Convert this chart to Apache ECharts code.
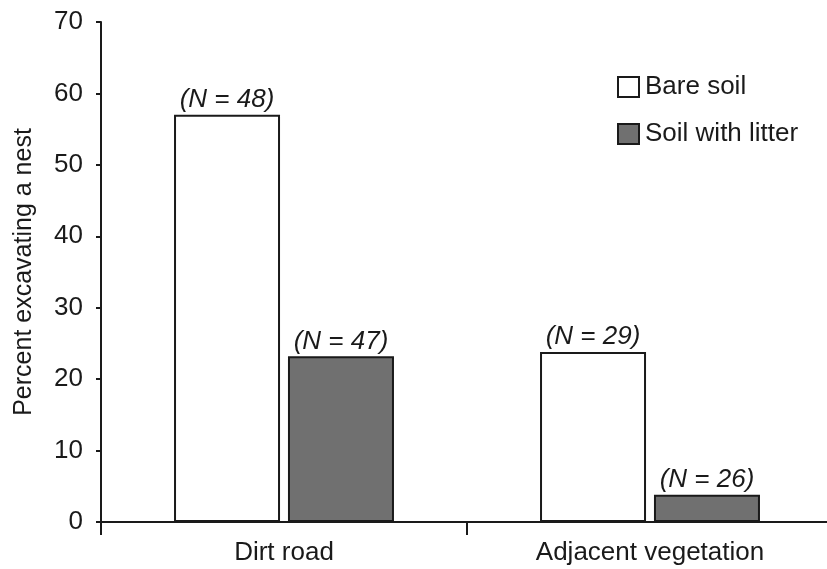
<!DOCTYPE html>
<html>
<head>
<meta charset="utf-8">
<script src="https://cdn.jsdelivr.net/npm/echarts@6/dist/echarts.min.js"></script>
<style>
  html, body { margin: 0; padding: 0; background: #fff; }
  #chart { width: 827px; height: 569px; }
</style>
</head>
<body>
<div id="chart"></div>
<script>
const categories = ['Dirt road', 'Adjacent vegetation']
const bareSoil = [57.0, 23.8]
const soilWithLitter = [23.2, 3.8]
const nBare = [48, 29]
const nLitter = [47, 26]
const yTicks = [0, 10, 20, 30, 40, 50, 60, 70]

const font = 'Liberation Sans, Arial, sans-serif'
const ink = '#1a1a1a'

const chart = echarts.init(document.getElementById('chart'))

const nLabel = (arr) => ({
  show: true,
  position: 'top',
  distance: 2,
  fontFamily: font,
  fontSize: 26,
  fontStyle: 'italic',
  color: ink,
  formatter: p => '(N = ' + arr[p.dataIndex] + ')'
})

const option = {
  animation: false,
  backgroundColor: '#fff',
  grid: {
    left: 101,
    top: 22,
    width: 732,
    height: 500,
    outerBoundsMode: 'none'
  },
  legend: {
    orient: 'vertical',
    left: 612,
    top: 69,
    itemWidth: 21,
    itemHeight: 20,
    itemGap: 21,
    icon: 'rect',
    textStyle: { fontFamily: font, fontSize: 26, lineHeight: 26, color: ink, padding: [0, 0, 0, 1] },
    data: ['Bare soil', 'Soil with litter']
  },
  xAxis: {
    type: 'category',
    data: categories,
    axisLine: { lineStyle: { color: ink, width: 2 } },
    axisTick: { show: true, length: 13, lineStyle: { color: ink, width: 2 } },
    axisLabel: { fontFamily: font, fontSize: 26, color: ink, margin: 18 }
  },
  yAxis: {
    type: 'value',
    min: yTicks[0],
    max: yTicks[yTicks.length - 1],
    interval: 10,
    name: 'Percent excavating a nest',
    nameLocation: 'middle',
    nameGap: 64,
    nameTextStyle: { fontFamily: font, fontSize: 25, color: ink },
    splitLine: { show: false },
    axisLine: { show: true, lineStyle: { color: ink, width: 2 } },
    axisTick: { show: true, length: 5, lineStyle: { color: ink, width: 2 } },
    axisLabel: { fontFamily: font, fontSize: 26, color: ink, margin: 18 }
  },
  series: [
    {
      name: 'Bare soil',
      type: 'bar',
      data: bareSoil,
      barWidth: 106,
      barGap: '7.5%',
      itemStyle: { color: '#fff', borderColor: ink, borderWidth: 2 },
      label: nLabel(nBare)
    },
    {
      name: 'Soil with litter',
      type: 'bar',
      data: soilWithLitter,
      barWidth: 106,
      itemStyle: { color: '#707070', borderColor: ink, borderWidth: 2 },
      label: nLabel(nLitter)
    }
  ]
}

chart.setOption(option)
</script>
</body>
</html>
